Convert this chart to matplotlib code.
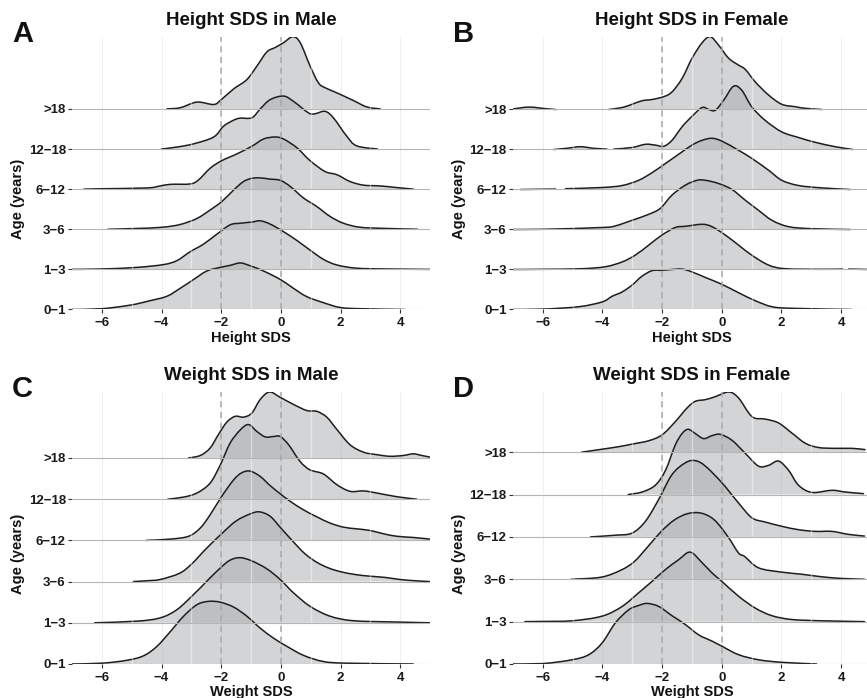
import numpy as np
import matplotlib
matplotlib.use('Agg')
import matplotlib.pyplot as plt
from matplotlib.path import Path
from matplotlib.patches import PathPatch

plt.rcParams['font.family'] = ['Liberation Sans', 'DejaVu Sans']
plt.rcParams['font.weight'] = 'bold'

ages = ['0\u22121', '1\u22123', '3\u22126', '6\u221212', '12\u221218', '>18']
xticks = [-6, -4, -2, 0, 2, 4]
cutoffs = [-2, 0]

# --- Height SDS, male (density heights, in row units)
hm_01_x = [-7.05, -6, -5.04, -4.38, -3.82, -3.37, -2.92, -2.48, -2.03, -1.7, -1.36, -1.03, -0.58, -0.02, 0.42, 0.87, 1.43, 1.99, 2.66, 4.16]
hm_01_h = [0, 0.02, 0.11, 0.22, 0.33, 0.53, 0.75, 0.96, 1.05, 1.1, 1.16, 1.09, 0.96, 0.75, 0.53, 0.32, 0.17, 0.05, 0.02, 0]
hm_13_x = [-7.05, -6, -4.82, -3.93, -3.48, -3.04, -2.59, -2.14, -1.7, -1.36, -0.97, -0.69, -0.36, 0.09, 0.54, 0.98, 1.43, 1.88, 2.54, 3.55, 5.0]
hm_13_h = [0, 0.01, 0.05, 0.12, 0.22, 0.44, 0.63, 0.88, 1.11, 1.15, 1.18, 1.21, 1.13, 0.94, 0.72, 0.48, 0.25, 0.11, 0.03, 0.01, 0]
hm_36_x = [-5.8, -4.82, -3.98, -3.37, -2.81, -2.37, -1.98, -1.58, -1.25, -0.97, -0.69, -0.36, -0.02, 0.31, 0.76, 1.2, 1.65, 2.1, 2.66, 3.55, 4.59]
hm_36_h = [0, 0.02, 0.05, 0.12, 0.27, 0.48, 0.69, 0.98, 1.19, 1.27, 1.28, 1.25, 1.22, 1.07, 0.78, 0.57, 0.32, 0.15, 0.05, 0.02, 0]
hm_612_x = [-6.6, -6, -4.49, -4.04, -3.7, -3.04, -2.76, -2.37, -1.98, -1.47, -0.97, -0.58, -0.19, 0.09, 0.54, 0.98, 1.48, 1.88, 2.32, 2.77, 3.33, 3.88, 4.44]
hm_612_h = [0, 0.01, 0.03, 0.08, 0.12, 0.13, 0.23, 0.52, 0.71, 0.88, 1.07, 1.25, 1.3, 1.25, 1.03, 0.71, 0.44, 0.36, 0.19, 0.1, 0.08, 0.04, 0]
hm_1218_x = [-4.0, -3.48, -2.92, -2.25, -1.92, -1.58, -1.36, -0.97, -0.69, -0.36, 0.09, 0.42, 0.93, 1.15, 1.48, 1.76, 2.21, 2.54, 3.24]
hm_1218_h = [0, 0.05, 0.13, 0.3, 0.57, 0.72, 0.77, 0.78, 1.0, 1.23, 1.32, 1.19, 0.9, 0.88, 0.94, 0.78, 0.32, 0.08, 0]
hm_18_x = [-3.82, -3.37, -2.81, -2.25, -2.0, -1.58, -1.14, -0.8, -0.47, -0.19, 0.09, 0.4, 0.65, 0.98, 1.26, 1.48, 1.88, 2.43, 2.88, 3.33]
hm_18_h = [0, 0.03, 0.17, 0.11, 0.23, 0.5, 0.73, 1.07, 1.42, 1.53, 1.65, 1.8, 1.65, 1.07, 0.65, 0.53, 0.4, 0.21, 0.05, 0]

# --- Height SDS, female (nan = gap where the curve is cut)
hf_01_x = [-7.08, -6, -4.79, -4.01, -3.68, -3.34, -3.01, -2.68, -2.34, -2.0, -1.67, -1.33, -1.0, -0.55, 0.0, 0.56, 1.12, 1.68, 2.35, 4.36]
hf_01_h = [0, 0.01, 0.07, 0.19, 0.33, 0.44, 0.61, 0.83, 0.97, 0.98, 1.0, 1.01, 0.94, 0.8, 0.63, 0.42, 0.22, 0.07, 0.03, 0]
hf_13_x = [-7.08, -6, -4.68, -3.9, -3.34, -2.9, -2.45, -2.01, -1.56, -1.22, -0.66, -0.33, 0.12, 0.56, 1.0, 1.57, 2.12, 3.35, 4.05, 4.15, 4.25, 5.0]
hf_13_h = [0, 0.005, 0.02, 0.07, 0.19, 0.36, 0.61, 0.86, 1.05, 1.08, 1.13, 1.07, 0.86, 0.61, 0.36, 0.11, 0.02, 0.005, 0.01, np.nan, 0.01, 0]
hf_36_x = [-7.08, -6, -4.01, -3.57, -3.01, -2.45, -2.06, -1.67, -1.22, -0.83, -0.55, -0.11, 0.34, 0.79, 1.23, 1.68, 2.24, 3.02, 4.3]
hf_36_h = [0, 0.005, 0.05, 0.09, 0.23, 0.38, 0.53, 0.86, 1.11, 1.23, 1.23, 1.15, 1.0, 0.73, 0.48, 0.23, 0.07, 0.02, 0]
hf_612_x = [-6.75, -5.57, -5.4, -5.24, -4.01, -3.34, -2.79, -2.34, -1.89, -1.45, -1.0, -0.66, -0.33, 0.0, 0.56, 1.0, 1.57, 2.01, 2.57, 3.35, 4.3]
hf_612_h = [0, 0.01, np.nan, 0.02, 0.05, 0.1, 0.23, 0.42, 0.65, 0.88, 1.11, 1.23, 1.28, 1.21, 0.98, 0.78, 0.48, 0.23, 0.1, 0.04, 0]
hf_1218_x = [-5.63, -5.2, -4.74, -4.3, -3.85, -3.73, -3.62, -3.01, -2.56, -2.23, -1.95, -1.67, -1.33, -1.0, -0.66, -0.44, -0.22, 0.06, 0.39, 0.67, 1.0, 1.45, 2.01, 2.57, 3.13, 3.8, 4.39]
hf_1218_h = [0, 0.03, 0.07, 0.03, 0.01, np.nan, 0.01, 0.05, 0.13, 0.11, 0.08, 0.23, 0.57, 0.83, 1.05, 1.0, 0.98, 1.23, 1.58, 1.48, 1.07, 0.73, 0.44, 0.3, 0.18, 0.07, 0]
hf_18_x = [-7.03, -6.47, -5.9, -5.57, -4.7, -3.79, -3.34, -3.01, -2.67, -2.34, -1.95, -1.67, -1.33, -1.0, -0.66, -0.39, -0.11, 0.23, 0.56, 0.79, 1.12, 1.57, 2.01, 2.46, 2.79, 3.35]
hf_18_h = [0.01, 0.06, 0.02, 0, np.nan, 0, 0.05, 0.13, 0.22, 0.25, 0.32, 0.44, 0.78, 1.28, 1.67, 1.82, 1.61, 1.28, 1.11, 1.0, 0.69, 0.36, 0.13, 0.07, 0.03, 0]

# --- Weight SDS, male
wm_01_x = [-7.05, -6, -5.16, -4.6, -4.15, -3.7, -3.26, -2.81, -2.42, -2.03, -1.58, -1.14, -0.69, -0.25, 0.2, 0.76, 1.43, 2.21, 4.44]
wm_01_h = [0, 0.02, 0.09, 0.2, 0.43, 0.79, 1.16, 1.44, 1.52, 1.5, 1.38, 1.16, 0.87, 0.63, 0.43, 0.21, 0.06, 0.02, 0]
wm_13_x = [-6.24, -4.82, -4.04, -3.48, -2.92, -2.48, -2.03, -1.7, -1.36, -0.97, -0.47, -0.02, 0.42, 0.98, 1.65, 2.43, 3.77, 5.0]
wm_13_h = [0, 0.04, 0.12, 0.32, 0.69, 1.01, 1.33, 1.52, 1.58, 1.5, 1.31, 1.05, 0.73, 0.4, 0.16, 0.05, 0.02, 0]
wm_36_x = [-4.95, -4.5, -4.05, -3.4, -3.0, -2.5, -2.0, -1.5, -1.0, -0.7, -0.35, 0.0, 0.4, 0.8, 1.2, 1.6, 2.0, 2.5, 3.0, 3.5, 4.0, 4.5, 5.0]
wm_36_h = [0, 0.02, 0.05, 0.2, 0.42, 0.8, 1.15, 1.47, 1.65, 1.69, 1.58, 1.3, 0.98, 0.68, 0.47, 0.33, 0.24, 0.17, 0.13, 0.1, 0.05, 0.02, 0]
wm_612_x = [-4.51, -3.71, -3.09, -2.7, -2.37, -1.98, -1.58, -1.31, -1.03, -0.69, -0.36, -0.02, 0.31, 0.76, 1.21, 1.65, 2.1, 2.54, 2.99, 3.44, 3.88, 4.44, 5.0]
wm_612_h = [0, 0.03, 0.1, 0.3, 0.62, 1.07, 1.47, 1.64, 1.68, 1.55, 1.33, 1.13, 0.95, 0.74, 0.57, 0.42, 0.32, 0.28, 0.24, 0.16, 0.1, 0.07, 0.03]
wm_1218_x = [-3.79, -3.26, -2.81, -2.37, -2.03, -1.7, -1.36, -1.08, -0.8, -0.52, -0.25, -0.02, 0.26, 0.65, 0.98, 1.43, 1.88, 2.32, 2.77, 3.21, 3.88, 4.55]
wm_1218_h = [0, 0.05, 0.15, 0.39, 0.83, 1.36, 1.68, 1.81, 1.64, 1.51, 1.52, 1.52, 1.32, 0.91, 0.71, 0.61, 0.35, 0.19, 0.2, 0.15, 0.06, 0]
wm_18_x = [-3.09, -2.7, -2.37, -2.09, -1.81, -1.53, -1.25, -0.97, -0.69, -0.38, -0.02, 0.42, 0.87, 1.21, 1.54, 1.88, 2.32, 2.77, 3.21, 3.66, 4.11, 4.44, 4.72, 5.0]
wm_18_h = [0, 0.06, 0.24, 0.57, 0.87, 1.01, 0.99, 1.09, 1.42, 1.6, 1.47, 1.3, 1.15, 1.13, 0.99, 0.69, 0.32, 0.14, 0.08, 0.04, 0.06, 0.1, 0.06, 0.02]

# --- Weight SDS, female
wf_01_x = [-7.08, -6, -5.02, -4.46, -4.01, -3.57, -3.12, -2.79, -2.51, -2.12, -1.67, -1.22, -0.78, -0.33, 0.0, 0.56, 1.23, 2.01, 3.18]
wf_01_h = [0, 0.01, 0.1, 0.22, 0.5, 0.97, 1.28, 1.38, 1.43, 1.36, 1.14, 0.93, 0.69, 0.54, 0.42, 0.22, 0.1, 0.04, 0]
wf_13_x = [-6.6, -6, -5.02, -4.01, -3.34, -2.79, -2.34, -1.89, -1.45, -1.06, -0.66, -0.33, 0.0, 0.56, 1.12, 1.68, 2.35, 3.35, 4.78]
wf_13_h = [0, 0.005, 0.02, 0.13, 0.36, 0.68, 0.95, 1.23, 1.46, 1.64, 1.39, 1.15, 0.95, 0.6, 0.32, 0.14, 0.05, 0.02, 0]
wf_36_x = [-5.05, -4.04, -3.37, -2.93, -2.48, -2.03, -1.59, -1.14, -0.69, -0.25, 0.2, 0.56, 0.76, 1.23, 1.99, 2.66, 3.33, 4.0, 4.78]
wf_36_h = [0, 0.05, 0.22, 0.42, 0.77, 1.13, 1.4, 1.55, 1.56, 1.4, 1.01, 0.62, 0.54, 0.27, 0.17, 0.12, 0.06, 0.02, 0]
wf_612_x = [-4.4, -3.57, -3.01, -2.56, -2.12, -1.67, -1.22, -0.89, -0.55, 0.0, 0.56, 1.01, 1.46, 2.01, 2.57, 3.13, 3.69, 4.24, 4.78]
wf_612_h = [0, 0.04, 0.09, 0.37, 0.88, 1.47, 1.75, 1.8, 1.67, 1.28, 0.8, 0.45, 0.35, 0.25, 0.17, 0.13, 0.13, 0.06, 0.02]
wf_1218_x = [-3.14, -2.67, -2.23, -1.89, -1.56, -1.33, -1.13, -0.89, -0.61, -0.33, -0.05, 0.34, 0.79, 1.23, 1.57, 1.9, 2.24, 2.57, 3.02, 3.69, 4.13, 4.75]
wf_1218_h = [0, 0.06, 0.22, 0.57, 1.17, 1.44, 1.54, 1.44, 1.32, 1.39, 1.42, 1.28, 0.97, 0.67, 0.69, 0.79, 0.57, 0.22, 0.05, 0.1, 0.06, 0.02]
wf_18_x = [-4.7, -4.01, -3.45, -3.01, -2.45, -2.0, -1.56, -1.17, -0.89, -0.55, -0.22, 0.23, 0.56, 1.01, 1.46, 1.9, 2.35, 2.8, 3.24, 3.8, 4.36, 4.8]
wf_18_h = [0, 0.07, 0.13, 0.19, 0.27, 0.41, 0.72, 1.04, 1.2, 1.24, 1.31, 1.42, 1.28, 0.84, 0.78, 0.69, 0.45, 0.21, 0.11, 0.09, 0.09, 0.06]

W, H = 867, 698
fill_col = '#a9abae'
line_col = '#1e1e1e'


def fx(px):
    return px / W


def fy(py):
    return 1 - py / H


def pieces(x, y):
    # split a ridge at its nan gaps
    ok = ~np.isnan(y)
    out, cur = [], []
    for k in range(len(x)):
        if ok[k]:
            cur.append((x[k], y[k]))
        elif cur:
            out.append(np.array(cur))
            cur = []
    if cur:
        out.append(np.array(cur))
    return out


def smooth_path(pts, base):
    # cubic bezier through the read points (catmull-rom tangents)
    n = len(pts)
    verts, codes = [pts[0]], [Path.MOVETO]
    for k in range(n - 1):
        p0, p1 = pts[max(k - 1, 0)], pts[k]
        p2, p3 = pts[k + 1], pts[min(k + 2, n - 1)]
        c1 = p1 + (p2 - p0) / 6
        c2 = p2 - (p3 - p1) / 6
        c1[1] = max(c1[1], base)
        c2[1] = max(c2[1], base)
        verts += [c1, c2, p2]
        codes += [Path.CURVE4] * 3
    return verts, codes


def ridges(ax, xs, hs, title, xlab, letter, left, bottom, top):
    top_val = max(i + np.nanmax(h) for i, h in enumerate(hs))
    for i in reversed(range(len(xs))):
        x = np.array(xs[i], dtype=float)
        y = i + np.array(hs[i], dtype=float)
        z = 2 + (5 - i) * 2
        for pts in pieces(x, y):
            verts, codes = smooth_path(pts, i)
            fv = verts + [(pts[-1][0], i), (pts[0][0], i), (pts[0][0], i)]
            fc = codes + [Path.LINETO, Path.LINETO, Path.CLOSEPOLY]
            ax.add_patch(PathPatch(Path(fv, fc), facecolor=fill_col, alpha=0.5,
                                   lw=0, zorder=z))
            ax.add_patch(PathPatch(Path(verts, codes), facecolor='none',
                                   edgecolor=line_col, lw=1.1, zorder=z + 1,
                                   capstyle='round'))
    for v in xticks:
        ax.axvline(v, color='#d0d0d0', lw=0.6, ls=(0, (1, 1.5)), zorder=0.5)
    for v in [-5, -3, -1, 1, 3]:
        ax.axvline(v, color='white', lw=1.0, alpha=0.45, zorder=20)
    for i in range(6):
        ax.axhline(i, color='#b5b5b5', lw=0.8, zorder=21)
    for c in cutoffs:
        ax.axvline(c, color='#a8a8a8', lw=1.1, ls=(0, (4, 3)), zorder=22)
    ax.set_xlim(-7, 5)
    ax.set_ylim(0, top_val)
    ax.set_yticks(range(6))
    ax.set_yticklabels(ages)
    ax.set_xticks(xticks)
    ax.set_xticklabels(['\u2212' + str(-v) if v < 0 else str(v) for v in xticks])
    for s in ax.spines.values():
        s.set_visible(False)
    ax.tick_params(axis='both', length=3, width=0.8, color='#333333',
                   labelsize=9.5, labelcolor='#1a1a1a')
    ax.tick_params(axis='y', pad=1.5)
    ax.tick_params(axis='x', pad=2.5)
    for lab in ax.get_xticklabels() + ax.get_yticklabels():
        lab.set_fontweight('bold')
    cx = (left + 358 / 2)
    fig.text(fx(cx), fy(top - 12), title, ha='center', va='baseline',
             fontsize=13.5, fontweight='bold', color='#111111')
    fig.text(fx(cx), fy(bottom + 32), xlab, ha='center', va='baseline',
             fontsize=10.5, fontweight='bold', color='#111111')
    fig.text(fx(left - 54), fy((top + bottom) / 2 + 26), 'Age (years)', rotation=90,
             ha='center', va='center', fontsize=10.5, fontweight='bold', color='#111111')
    fig.text(fx(left - 60), fy(top + 5), letter, ha='left', va='baseline',
             fontsize=21, fontweight='bold', color='#111111')


fig = plt.figure(figsize=(W / 100, H / 100), dpi=100)

panels = [
    ([hm_01_x, hm_13_x, hm_36_x, hm_612_x, hm_1218_x, hm_18_x],
     [hm_01_h, hm_13_h, hm_36_h, hm_612_h, hm_1218_h, hm_18_h],
     'Height SDS in Male', 'Height SDS', 'A', 72, 309.5, 36.7),
    ([hf_01_x, hf_13_x, hf_36_x, hf_612_x, hf_1218_x, hf_18_x],
     [hf_01_h, hf_13_h, hf_36_h, hf_612_h, hf_1218_h, hf_18_h],
     'Height SDS in Female', 'Height SDS', 'B', 513, 309.5, 36.7),
    ([wm_01_x, wm_13_x, wm_36_x, wm_612_x, wm_1218_x, wm_18_x],
     [wm_01_h, wm_13_h, wm_36_h, wm_612_h, wm_1218_h, wm_18_h],
     'Weight SDS in Male', 'Weight SDS', 'C', 72, 664, 392),
    ([wf_01_x, wf_13_x, wf_36_x, wf_612_x, wf_1218_x, wf_18_x],
     [wf_01_h, wf_13_h, wf_36_h, wf_612_h, wf_1218_h, wf_18_h],
     'Weight SDS in Female', 'Weight SDS', 'D', 513, 664, 392),
]

for xs, hs, title, xlab, letter, left, bottom, top in panels:
    ax = fig.add_axes([fx(left), fy(bottom), fx(358), (bottom - top) / H])
    ridges(ax, xs, hs, title, xlab, letter, left, bottom, top)

plt.savefig('out.png', dpi=100)
plt.close()
